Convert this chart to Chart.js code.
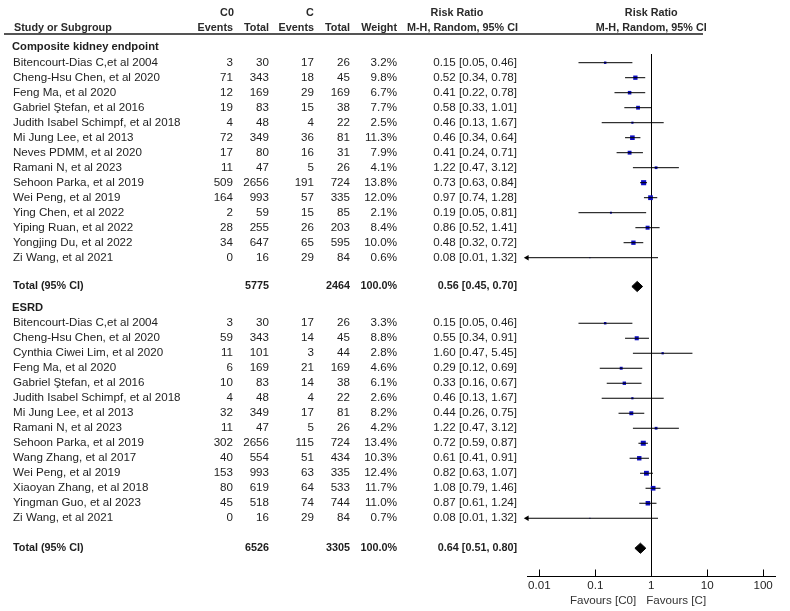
<!DOCTYPE html>
<html lang="en">
<head>
    <meta charset="UTF-8">
    <title>Forest plot</title>
    <script src="https://cdn.jsdelivr.net/npm/chart.js@4.4.1/dist/chart.umd.min.js"></script>
    <style>
        body {
            margin: 0;
            background: #fff;
        }
        #wrap {
            width: 790px;
            height: 611px;
        }
    </style>
</head>
<body>
    <div id="wrap"><canvas id="forest" width="790" height="611"></canvas></div>

    <script>
        // Composite kidney endpoint
        const studiesA = ["Bitencourt-Dias C,et al 2004", "Cheng-Hsu Chen, et al 2020", "Feng Ma, et al 2020", "Gabriel Ştefan, et al 2016", "Judith Isabel Schimpf, et al 2018", "Mi Jung Lee, et al 2013", "Neves PDMM, et al 2020", "Ramani N, et al 2023", "Sehoon Parka, et al 2019", "Wei Peng, et al 2019", "Ying Chen, et al 2022", "Yiping Ruan, et al 2022", "Yongjing Du, et al 2022", "Zi Wang, et al 2021"];
        const c0EventsA = [3, 71, 12, 19, 4, 72, 17, 11, 509, 164, 2, 28, 34, 0];
        const c0TotalA = [30, 343, 169, 83, 48, 349, 80, 47, 2656, 993, 59, 255, 647, 16];
        const cEventsA = [17, 18, 29, 15, 4, 36, 16, 5, 191, 57, 15, 26, 65, 29];
        const cTotalA = [26, 45, 169, 38, 22, 81, 31, 26, 724, 335, 85, 203, 595, 84];
        const weightA = [3.2, 9.8, 6.7, 7.7, 2.5, 11.3, 7.9, 4.1, 13.8, 12.0, 2.1, 8.4, 10.0, 0.6];
        const rrA = [0.15, 0.52, 0.41, 0.58, 0.46, 0.46, 0.41, 1.22, 0.73, 0.97, 0.19, 0.86, 0.48, 0.08];
        const loA = [0.05, 0.34, 0.22, 0.33, 0.13, 0.34, 0.24, 0.47, 0.63, 0.74, 0.05, 0.52, 0.32, 0.0054];
        const hiA = [0.46, 0.78, 0.78, 1.01, 1.67, 0.64, 0.71, 3.12, 0.84, 1.28, 0.81, 1.41, 0.72, 1.32];
        const totalsA = [5775, 2464];
        const pooledA = [0.56, 0.45, 0.70];

        // ESRD
        const studiesB = ["Bitencourt-Dias C,et al 2004", "Cheng-Hsu Chen, et al 2020", "Cynthia Ciwei Lim, et al 2020", "Feng Ma, et al 2020", "Gabriel Ştefan, et al 2016", "Judith Isabel Schimpf, et al 2018", "Mi Jung Lee, et al 2013", "Ramani N, et al 2023", "Sehoon Parka, et al 2019", "Wang Zhang, et al 2017", "Wei Peng, et al 2019", "Xiaoyan Zhang, et al 2018", "Yingman Guo, et al 2023", "Zi Wang, et al 2021"];
        const c0EventsB = [3, 59, 11, 6, 10, 4, 32, 11, 302, 40, 153, 80, 45, 0];
        const c0TotalB = [30, 343, 101, 169, 83, 48, 349, 47, 2656, 554, 993, 619, 518, 16];
        const cEventsB = [17, 14, 3, 21, 14, 4, 17, 5, 115, 51, 63, 64, 74, 29];
        const cTotalB = [26, 45, 44, 169, 38, 22, 81, 26, 724, 434, 335, 533, 744, 84];
        const weightB = [3.3, 8.8, 2.8, 4.6, 6.1, 2.6, 8.2, 4.2, 13.4, 10.3, 12.4, 11.7, 11.0, 0.7];
        const rrB = [0.15, 0.55, 1.60, 0.29, 0.33, 0.46, 0.44, 1.22, 0.72, 0.61, 0.82, 1.08, 0.87, 0.08];
        const loB = [0.05, 0.34, 0.47, 0.12, 0.16, 0.13, 0.26, 0.47, 0.59, 0.41, 0.63, 0.79, 0.61, 0.0054];
        const hiB = [0.46, 0.91, 5.45, 0.69, 0.67, 1.67, 0.75, 3.12, 0.87, 0.91, 1.07, 1.46, 1.24, 1.32];
        const totalsB = [6526, 3305];
        const pooledB = [0.64, 0.51, 0.80];

        const axisTicks = [0.01, 0.1, 1, 10, 100];
        const axisTickLabels = ["0.01", "0.1", "1", "10", "100"];

        const X_MIN = 0.006;
        const X_MAX = 170;

        // row numbers on the y scale (one unit = one table line)
        const headA = 0, firstA = 1.08, totalRowA = 16;
        const headB = 17.45, firstB = 18.45, totalRowB = 33.45;

        const FONT = "'Liberation Sans', Arial, sans-serif";
        const col = { name: 13, e0: 233, n0: 269, e1: 314, n1: 350, w: 397, ci: 517 };

        function ciPoints(lo, hi, first) {
            const pts = [];
            lo.forEach((l, i) => {
                pts.push({ x: l, y: first + i }, { x: hi[i], y: first + i }, { x: NaN, y: NaN });
            });
            return pts;
        }

        function squarePoints(rr, first) {
            return rr.map((r, i) => ({ x: r, y: first + i }));
        }

        function arrowPoints(lo, first) {
            const pts = [];
            lo.forEach((l, i) => { if (l < X_MIN) pts.push({ x: X_MIN, y: first + i }); });
            return pts;
        }

        function diamond(p, row) {
            const h = 0.34;
            return [{ x: p[1], y: row }, { x: p[0], y: row - h }, { x: p[2], y: row }, { x: p[0], y: row + h }, { x: p[1], y: row }];
        }

        const fmtCi = (r, l, h) => r.toFixed(2) + ' [' + l.toFixed(2) + ', ' + h.toFixed(2) + ']';

        const forestText = {
            id: 'forestText',
            beforeDatasetsDraw(chart) {
                const { ctx, chartArea, scales: { x } } = chart;
                const px = Math.round(x.getPixelForValue(1)) + 0.5;
                ctx.save();
                ctx.strokeStyle = '#000';
                ctx.lineWidth = 1;
                ctx.beginPath();
                ctx.moveTo(px, chartArea.top);
                ctx.lineTo(px, chartArea.bottom);
                ctx.stroke();
                ctx.restore();
            },
            afterDraw(chart) {
                const { ctx, chartArea, scales: { x, y } } = chart;
                const px1 = x.getPixelForValue(1);
                ctx.save();
                ctx.fillStyle = '#1e1e1e';
                ctx.textBaseline = 'middle';

                const text = (s, tx, ty, align, bold, size) => {
                    ctx.font = (bold ? 'bold ' : '') + (size || 11.6) + 'px ' + FONT;
                    ctx.textAlign = align;
                    ctx.fillText(s, tx, ty);
                };

                // column headers
                ctx.fillStyle = '#2a2a2a';
                text('C0', 227, 13.5, 'center', true, 10.8);
                text('C', 310, 13.5, 'center', true, 10.8);
                text('Risk Ratio', 457, 13.5, 'center', true, 10.8);
                text('Risk Ratio', px1, 13.5, 'center', true, 10.8);
                text('Study or Subgroup', 14, 28, 'left', true, 10.8);
                text('Events', col.e0, 28, 'right', true, 10.8);
                text('Total', col.n0, 28, 'right', true, 10.8);
                text('Events', col.e1, 28, 'right', true, 10.8);
                text('Total', col.n1, 28, 'right', true, 10.8);
                text('Weight', col.w, 28, 'right', true, 10.8);
                text('M-H, Random, 95% CI', col.ci + 1, 28, 'right', true, 10.8);
                text('M-H, Random, 95% CI', px1, 28, 'center', true, 10.8);

                ctx.fillStyle = '#555';
                ctx.fillRect(4, 33, 699, 2);
                ctx.fillStyle = '#1e1e1e';

                const group = (title, head, first, names, e0, n0, e1, n1, w, rr, lo, hi, totRow, tots, pooled) => {
                    text(title, 12, y.getPixelForValue(head), 'left', true, 11.2);
                    names.forEach((nm, i) => {
                        const ty = y.getPixelForValue(first + i);
                        text(nm, col.name, ty, 'left');
                        text(String(e0[i]), col.e0, ty, 'right');
                        text(String(n0[i]), col.n0, ty, 'right');
                        text(String(e1[i]), col.e1, ty, 'right');
                        text(String(n1[i]), col.n1, ty, 'right');
                        text(w[i].toFixed(1) + '%', col.w, ty, 'right');
                        text(fmtCi(rr[i], lo[i], hi[i]), col.ci, ty, 'right');
                    });
                    const ty = y.getPixelForValue(totRow);
                    text('Total (95% CI)', col.name, ty, 'left', true, 10.8);
                    text(String(tots[0]), col.n0, ty, 'right', true, 10.8);
                    text(String(tots[1]), col.n1, ty, 'right', true, 10.8);
                    text('100.0%', col.w, ty, 'right', true, 10.8);
                    text(fmtCi(pooled[0], pooled[1], pooled[2]), col.ci, ty, 'right', true, 10.8);
                };

                group('Composite kidney endpoint', headA, firstA, studiesA, c0EventsA, c0TotalA, cEventsA, cTotalA, weightA, rrA, loA, hiA, totalRowA, totalsA, pooledA);
                group('ESRD', headB, firstB, studiesB, c0EventsB, c0TotalB, cEventsB, cTotalB, weightB, rrB, loB, hiB, totalRowB, totalsB, pooledB);

                // x axis
                const ay = Math.round(chartArea.bottom) + 0.5;
                ctx.strokeStyle = '#000';
                ctx.lineWidth = 1;
                ctx.beginPath();
                ctx.moveTo(chartArea.left, ay);
                ctx.lineTo(chartArea.right, ay);
                axisTicks.forEach(t => {
                    const tx = Math.round(x.getPixelForValue(t)) + 0.5;
                    ctx.moveTo(tx, ay - 7);
                    ctx.lineTo(tx, ay);
                });
                ctx.stroke();
                axisTicks.forEach((t, i) => {
                    text(axisTickLabels[i], x.getPixelForValue(t), ay + 9.5, 'center');
                });
                ctx.fillStyle = '#333';
                text('Favours [C0]', px1 - 15, ay + 24, 'right');
                text('Favours [C]', px1 - 5, ay + 24, 'left');
                ctx.restore();
            }
        };

        const sqRadius = w => w.map(v => 0.97 * Math.sqrt(v));
        const blue = '#0c0cc4';

        new Chart(document.getElementById('forest'), {
            type: 'scatter',
            data: {
                datasets: [
                    { data: ciPoints(loA, hiA, firstA), showLine: true, borderColor: '#000', borderWidth: 1, pointRadius: 0, spanGaps: false },
                    { data: ciPoints(loB, hiB, firstB), showLine: true, borderColor: '#000', borderWidth: 1, pointRadius: 0, spanGaps: false },
                    { data: squarePoints(rrA, firstA), pointStyle: 'rect', pointRadius: sqRadius(weightA), pointBackgroundColor: blue, pointBorderWidth: 0 },
                    { data: squarePoints(rrB, firstB), pointStyle: 'rect', pointRadius: sqRadius(weightB), pointBackgroundColor: blue, pointBorderWidth: 0 },
                    { data: arrowPoints(loA, firstA).concat(arrowPoints(loB, firstB)), pointStyle: 'triangle', rotation: -90, pointRadius: 3.2, pointBackgroundColor: '#000', pointBorderColor: '#000', pointBorderWidth: 0, clip: false },
                    { data: diamond(pooledA, totalRowA), showLine: true, fill: 'shape', backgroundColor: '#000', borderColor: '#000', borderWidth: 1, pointRadius: 0 },
                    { data: diamond(pooledB, totalRowB), showLine: true, fill: 'shape', backgroundColor: '#000', borderColor: '#000', borderWidth: 1, pointRadius: 0 }
                ]
            },
            options: {
                responsive: false,
                animation: false,
                layout: {
                    padding: { left: 527, right: 14, top: 54, bottom: 35 }
                },
                plugins: {
                    legend: { display: false },
                    tooltip: { enabled: false }
                },
                events: [],
                scales: {
                    x: {
                        type: 'logarithmic',
                        min: X_MIN,
                        max: X_MAX,
                        display: false
                    },
                    y: {
                        type: 'linear',
                        reverse: true,
                        min: 0.5,
                        max: 35.3,
                        display: false
                    }
                }
            },
            plugins: [forestText]
        });
    </script>
</body>
</html>
